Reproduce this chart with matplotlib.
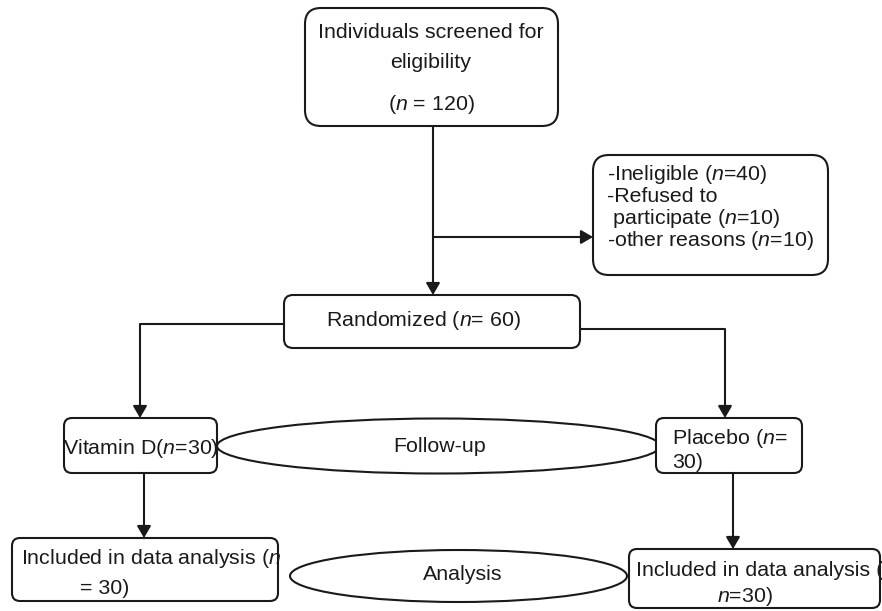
import matplotlib
matplotlib.use("Agg")
import matplotlib.pyplot as plt
from matplotlib.patches import FancyBboxPatch, Ellipse, FancyArrowPatch

plt.rcParams['font.family'] = ['Liberation Sans', 'DejaVu Sans']
plt.rcParams['mathtext.fontset'] = 'custom'
plt.rcParams['mathtext.rm'] = 'Liberation Sans'
plt.rcParams['mathtext.it'] = 'Liberation Sans:italic'

# ---- data (flow counts and labels) ----
n_screened = 120
n_ineligible = 40
n_refused = 10
n_other = 10
n_randomized = 60
n_vitd = 30
n_placebo = 30
n_incl_vitd = 30
n_incl_placebo = 30
stage_labels = ["Follow-up", "Analysis"]

N = r"$\mathit{n}$"

# ---- layout (pixels) ----
W, H = 882, 611
fig = plt.figure(figsize=(W / 100, H / 100), dpi=100)
ax = fig.add_axes([0, 0, 1, 1])
ax.set_xlim(0, W)
ax.set_ylim(H, 0)
ax.axis('off')

FS = 15.4
LW = 1.5
INK = '#1a1a1a'


def box(x0, y0, x1, y1, r=10):
    p = FancyBboxPatch((x0, y0), x1 - x0, y1 - y0,
                       boxstyle=f"round,pad=0,rounding_size={r}",
                       fc='white', ec=INK, lw=LW, zorder=3)
    ax.add_patch(p)


def txt(x, y, s, ha='center'):
    ax.text(x, y, s, ha=ha, va='center', fontsize=FS, color=INK, zorder=5)


def arrow(pts):
    for (xa, ya), (xb, yb) in zip(pts[:-2], pts[1:-1]):
        ax.plot([xa, xb], [ya, yb], color=INK, lw=LW, zorder=2,
                solid_capstyle='butt')
    a = FancyArrowPatch(pts[-2], pts[-1], arrowstyle='-|>,head_length=7.2,head_width=4.2',
                        color=INK, lw=LW, shrinkA=0, shrinkB=0,
                        mutation_scale=1.0, zorder=4)
    ax.add_patch(a)


# ellipses
ax.add_patch(Ellipse((438.5, 446), 443, 55, fc='white', ec=INK, lw=LW, zorder=1))
ax.add_patch(Ellipse((458.5, 576), 337, 52, fc='white', ec=INK, lw=LW, zorder=1))
txt(440, 446, stage_labels[0])
txt(463, 574, stage_labels[1])

# top box
box(305, 8, 558, 126, r=16)
txt(431, 33, "Individuals screened for")
txt(431, 63, "eligibility")
txt(431, 105, f"({N} = {n_screened})")

# exclusion box
box(593, 155, 828, 275, r=16)
txt(607, 174, f"-Ineligible ({N}={n_ineligible})", ha='left')
txt(607, 196, "-Refused to", ha='left')
txt(607, 218, f" participate ({N}={n_refused})", ha='left')
txt(607, 240, f"-other reasons ({N}={n_other})", ha='left')

# randomized
box(284, 295, 580, 348, r=9)
txt(326, 321, f"Randomized ({N}= {n_randomized})", ha='left')

# arms
box(64, 418, 217, 473, r=8)
txt(141, 448, f"Vitamin D({N}={n_vitd})")
box(656, 418, 802, 473, r=8)
txt(672, 439, f"Placebo ({N}=", ha='left')
txt(672, 463, f"{n_placebo})", ha='left')

# analysis boxes
box(12, 538, 278, 601, r=8)
txt(21, 559, f"Included in data analysis ({N}", ha='left')
txt(80, 588, f"= {n_incl_vitd})", ha='left')
box(629, 549, 880, 608, r=8)
txt(636, 570, "Included in data analysis (", ha='left')
txt(717, 597, f"{N}={n_incl_placebo})", ha='left')

# arrows
arrow([(433, 126), (433, 295)])
arrow([(433, 237), (593, 237)])
arrow([(284, 324), (140, 324), (140, 418)])
arrow([(580, 329), (725, 329), (725, 418)])
arrow([(144, 473), (144, 538)])
arrow([(733, 473), (733, 549)])

fig.savefig("out.png", dpi=100, facecolor='white')
